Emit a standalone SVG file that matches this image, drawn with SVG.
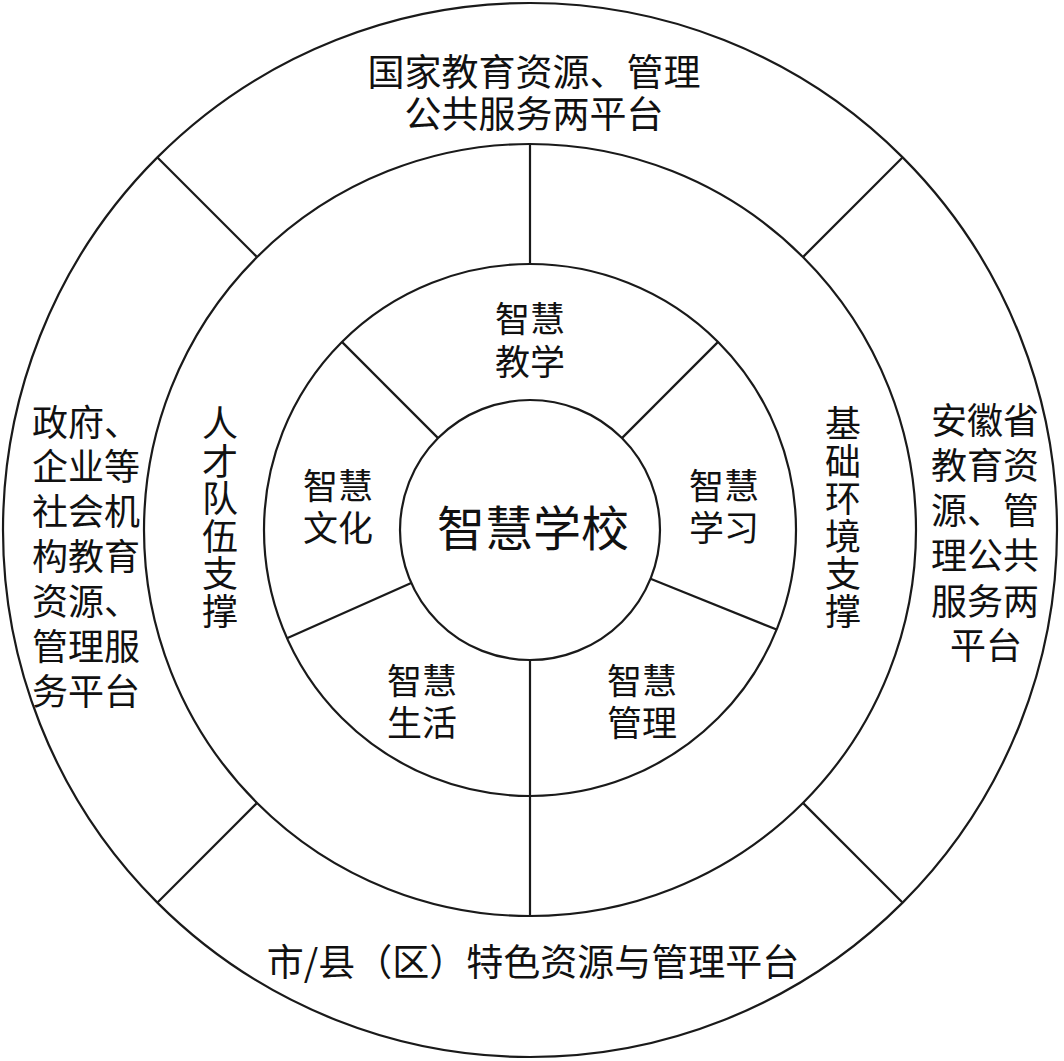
<svg xmlns="http://www.w3.org/2000/svg" width="1064" height="1061" viewBox="0 0 1064 1061">
<style>
.ring{fill:none;stroke:#1a1a1a;stroke-width:2.2}
.div{stroke:#1a1a1a;stroke-width:2.2;fill:none}
text{font-family:"Noto Sans CJK SC","Noto Sans",sans-serif;fill:#111;dominant-baseline:central}
.c{text-anchor:middle}
.l{font-size:37px}
.m{font-size:36px}
.s{font-size:35px}
.big{font-size:48px}
.v{writing-mode:vertical-rl;text-anchor:middle;letter-spacing:1.5px;font-size:36px}
</style>
<rect width="1064" height="1061" fill="#fff"/>
<g id="rings">
<circle class="ring" cx="530" cy="530" r="527"/>
<circle class="ring" cx="530" cy="530" r="386"/>
<circle class="ring" cx="530" cy="530" r="266"/>
<circle class="ring" cx="530" cy="530" r="130"/>
</g>
<g id="connectors">
<line class="div" x1="256.6" y1="256.6" x2="157" y2="157"/>
<line class="div" x1="803.4" y1="256.6" x2="903" y2="157"/>
<line class="div" x1="256.6" y1="803.4" x2="157" y2="903"/>
<line class="div" x1="803.4" y1="803.4" x2="903" y2="903"/>
<line class="div" x1="530" y1="144" x2="530" y2="264"/>
<line class="div" x1="530" y1="796" x2="530" y2="916"/>
<line class="div" x1="438.1" y1="438.1" x2="341.9" y2="341.9"/>
<line class="div" x1="621.9" y1="438.1" x2="718.1" y2="341.9"/>
<line class="div" x1="650.5" y1="578.7" x2="776.6" y2="629.6"/>
<line class="div" x1="411.2" y1="582.9" x2="287" y2="638.2"/>
<line class="div" x1="530" y1="660" x2="530" y2="796"/>
</g>
<g id="national">
<text class="c l" x="534" y="70">国家教育资源、管理<tspan x="534" y="112">公共服务两平台</tspan></text>
</g>
<g id="society">
<text class="m" x="32" y="420">政府、<tspan x="32" y="464">企业等</tspan><tspan x="32" y="509">社会机</tspan><tspan x="32" y="554">构教育</tspan><tspan x="32" y="599">资源、</tspan><tspan x="32" y="644">管理服</tspan><tspan x="32" y="689">务平台</tspan></text>
</g>
<g id="anhui">
<text class="c m" x="985" y="418">安徽省<tspan x="985" y="463">教育资</tspan><tspan x="985" y="508">源、管</tspan><tspan x="985" y="553">理公共</tspan><tspan x="985" y="599">服务两</tspan><tspan x="986" y="643">平台</tspan></text>
</g>
<g id="city">
<text class="c l" x="533" y="960">市/县（区）特色资源与管理平台</text>
</g>
<g id="talent">
<text class="v" x="220" y="518">人才队伍支撑</text>
</g>
<g id="infra">
<text class="v" x="843" y="518">基础环境支撑</text>
</g>
<g id="teaching">
<text class="c s" x="530" y="316">智慧<tspan x="530" y="359">教学</tspan></text>
</g>
<g id="learning">
<text class="c s" x="724" y="483">智慧<tspan x="724" y="525">学习</tspan></text>
</g>
<g id="culture">
<text class="c s" x="338" y="483">智慧<tspan x="338" y="525">文化</tspan></text>
</g>
<g id="life">
<text class="c s" x="422" y="678">智慧<tspan x="422" y="720">生活</tspan></text>
</g>
<g id="management">
<text class="c s" x="642" y="678">智慧<tspan x="642" y="720">管理</tspan></text>
</g>
<g id="school">
<text class="c big" x="533" y="525">智慧学校</text>
</g>
</svg>
